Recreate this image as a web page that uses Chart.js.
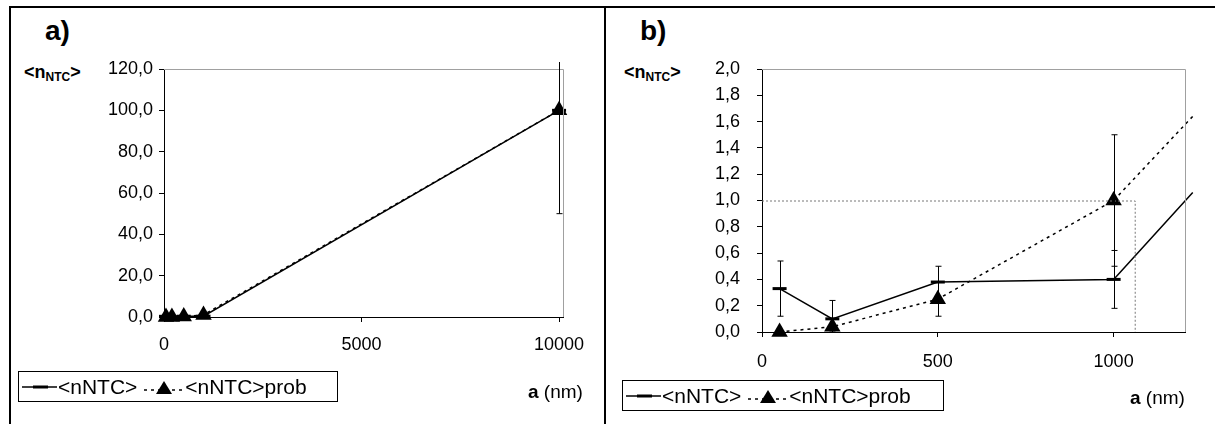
<!DOCTYPE html>
<html>
<head>
<meta charset="utf-8">
<script src="https://cdn.jsdelivr.net/npm/chart.js@4.4.0/dist/chart.umd.min.js"></script>
<style>
  body { margin: 0; width: 1215px; height: 424px; background: #fff; position: relative; overflow: hidden;
         font-family: Arial, "Liberation Sans", sans-serif; color: #000; }
  .frame { position: absolute; left: 9px; top: 6px; width: 1230px; height: 440px; border: 2px solid #000; box-sizing: border-box; }
  .divider { position: absolute; left: 604px; top: 6px; width: 2px; height: 430px; background: #000; }
  .box { position: absolute; }
  .tag { position: absolute; font-weight: bold; font-size: 28px; }
  .ylab { position: absolute; font-weight: bold; font-size: 18px; }
  .ylab sub { font-size: 12px; vertical-align: -3px; }
  .xlab { position: absolute; font-size: 19px; }
  .legend { position: absolute; border: 1px solid #000; font-size: 21px; height: 31px; line-height: 29px;
            box-sizing: border-box; white-space: nowrap; padding-left: 2px; }
  .legend svg { vertical-align: middle; margin-top: -3px; }
</style>
</head>
<body>
<div class="frame"></div>
<div class="divider"></div>

<div class="tag" style="left:45px;top:15px;">a)</div>
<div class="tag" style="left:640px;top:15px;">b)</div>
<div class="ylab" style="left:24px;top:62px;">&lt;n<sub>NTC</sub>&gt;</div>
<div class="ylab" style="left:624px;top:62px;">&lt;n<sub>NTC</sub>&gt;</div>

<div class="box" style="left:12px;top:10px;width:590px;height:400px;"><canvas id="chartA"></canvas></div>
<div class="box" style="left:610px;top:10px;width:600px;height:400px;"><canvas id="chartB"></canvas></div>

<div class="xlab" style="left:528px;top:381px;"><b>a</b> (nm)</div>
<div class="xlab" style="left:1130px;top:387px;"><b>a</b> (nm)</div>

<div class="legend" style="left:18px;top:371px;width:320px;">
  <svg width="37" height="12"><line x1="1" y1="6" x2="36" y2="6" stroke="#000" stroke-width="1.5"/><line x1="12" y1="6" x2="27" y2="6" stroke="#000" stroke-width="3"/></svg>&lt;nNTC&gt;
  <svg width="42" height="18"><line x1="1" y1="12" x2="41" y2="12" stroke="#000" stroke-width="1.5" stroke-dasharray="3,4"/><polygon points="21,3 29,16 13,16" fill="#000"/></svg>&lt;nNTC&gt;prob
</div>
<div class="legend" style="left:622px;top:380px;width:322px;">
  <svg width="37" height="12"><line x1="1" y1="6" x2="36" y2="6" stroke="#000" stroke-width="1.5"/><line x1="12" y1="6" x2="27" y2="6" stroke="#000" stroke-width="3"/></svg>&lt;nNTC&gt;
  <svg width="42" height="18"><line x1="1" y1="12" x2="41" y2="12" stroke="#000" stroke-width="1.5" stroke-dasharray="3,4"/><polygon points="21,3 29,16 13,16" fill="#000"/></svg>&lt;nNTC&gt;prob
</div>

<script>
// particle spacing a (nm)
const aValues = [50, 200, 500, 1000, 10000];
// <nNTC> and its error range
const nNTC = [0.33, 0.10, 0.38, 0.40, 100];
const nNTCLow = [0.12, 0.00, 0.26, 0.18, 50];
const nNTCHigh = [0.54, 0.24, 0.50, 0.62, 150];
// <nNTC>prob and its error range
const nProb = [0.00, 0.04, 0.25, 1.00, 100];
const nProbLow = [0.00, 0.04, 0.12, 0.50, 100];
const nProbHigh = [0.00, 0.04, 0.38, 1.50, 100];

// panel b: zoom, lines leave the frame on the right at these values
const bValues = [50, 200, 500, 1000, 1225];
const bNTC = [0.33, 0.10, 0.38, 0.40, 1.06];
const bProb = [0.00, 0.04, 0.25, 1.00, 1.64];
const bBox = { x: 1060, y: 1.0 };   // dashed zoom frame

const aTicksX = [0, 5000, 10000];
const bTicksX = [0, 500, 1000];

const FONT = { family: 'Arial, "Liberation Sans", sans-serif', size: 18 };

function pts(xs, ys) {
    return xs.map((x, i) => ({ x: x, y: ys[i] }));
}

// error bars, frame lines, zoom box
const extras = {
    id: 'extras',
    afterDatasetsDraw(chart, args, opts) {
        const ctx = chart.ctx;
        const xs = chart.scales.x, ys = chart.scales.y;
        const area = chart.chartArea;
        ctx.save();
        // plot frame top/right (gray)
        ctx.strokeStyle = '#a0a0a0';
        ctx.lineWidth = 1;
        ctx.beginPath();
        ctx.moveTo(area.left, area.top + 0.5);
        ctx.lineTo(area.right + 0.5, area.top + 0.5);
        ctx.lineTo(area.right + 0.5, area.bottom);
        ctx.stroke();

        if (opts.box) {
            ctx.strokeStyle = '#777';
            ctx.setLineDash([2, 2]);
            const bx = xs.getPixelForValue(opts.box.x), by = ys.getPixelForValue(opts.box.y);
            ctx.beginPath();
            ctx.moveTo(area.left, by + 0.5);
            ctx.lineTo(bx + 0.5, by + 0.5);
            ctx.lineTo(bx + 0.5, area.bottom);
            ctx.stroke();
            ctx.setLineDash([]);
        }

        ctx.strokeStyle = '#000';
        ctx.lineWidth = 1;
        opts.errors.forEach(e => {
            e.x.forEach((xv, i) => {
                if (e.high[i] === e.low[i]) return;
                if (xv > xs.max) return;
                const px = Math.round(xs.getPixelForValue(xv)) + 0.5;
                let top = ys.getPixelForValue(e.high[i]);
                let bot = ys.getPixelForValue(e.low[i]);
                const topCut = top < area.top - 7;
                if (topCut) top = area.top - 7;
                ctx.beginPath();
                ctx.moveTo(px, top);
                ctx.lineTo(px, bot);
                if (!topCut) { ctx.moveTo(px - 3, top); ctx.lineTo(px + 3, top); }
                ctx.moveTo(px - 3, bot); ctx.lineTo(px + 3, bot);
                ctx.stroke();
            });
        });
        ctx.restore();
    }
};

function makeChart(id, cfg) {
    const W = cfg.W, H = cfg.H;
    return new Chart(document.getElementById(id), {
        type: 'scatter',
        data: {
            datasets: [
                {
                    label: '<nNTC>',
                    data: pts(cfg.xs, cfg.n),
                    showLine: true,
                    borderColor: '#000',
                    borderWidth: 1.5,
                    pointStyle: 'line',
                    pointRadius: cfg.xs.map(x => x > cfg.xMax ? 0 : 7),
                    pointBorderWidth: 3,
                    pointBorderColor: '#000',
                    clip: false
                },
                {
                    label: '<nNTC>prob',
                    data: pts(cfg.xs, cfg.p),
                    showLine: true,
                    borderColor: '#000',
                    borderWidth: 1.5,
                    borderDash: [3, 4],
                    pointStyle: 'triangle',
                    pointRadius: cfg.xs.map(x => x > cfg.xMax ? 0 : 9.5),
                    pointBackgroundColor: '#000',
                    pointBorderColor: '#000',
                    pointBorderWidth: 0,
                    clip: false
                }
            ]
        },
        options: {
            responsive: true,
            maintainAspectRatio: false,
            animation: false,
            events: [],
            layout: { padding: { left: 0, top: cfg.top, right: W - cfg.right, bottom: 0 } },
            plugins: {
                legend: { display: false },
                tooltip: { enabled: false },
                extras: { errors: cfg.errors, box: cfg.box }
            },
            scales: {
                x: {
                    type: 'linear',
                    min: 0,
                    max: cfg.xMax,
                    afterBuildTicks: s => { s.ticks = cfg.xTicks.map(v => ({ value: v })); },
                    afterFit: s => { s.height = H - cfg.bottom; },
                    grid: { drawOnChartArea: false, tickLength: 5, color: '#000' },
                    border: { color: '#000', width: 1 },
                    ticks: { color: '#000', font: FONT, padding: cfg.xPad, maxRotation: 0,
                             callback: v => String(v) }
                },
                y: {
                    min: 0,
                    max: cfg.yMax,
                    ticks: {
                        stepSize: cfg.yStep,
                        color: '#000',
                        font: FONT,
                        padding: cfg.yPad,
                        callback: v => v.toFixed(1).replace('.', ',')
                    },
                    afterFit: s => { s.width = cfg.left; },
                    grid: { drawOnChartArea: false, tickLength: 5, color: '#000' },
                    border: { color: '#000', width: 1 }
                }
            }
        },
        plugins: [extras]
    });
}

makeChart('chartA', {
    W: 590, H: 400, left: 152, right: 551, top: 59, bottom: 307,
    xs: aValues, n: nNTC, p: nProb, xMax: 10100, xTicks: aTicksX,
    yMax: 120, yStep: 20, xPad: 12, yPad: 6,
    errors: [
        { x: aValues, low: nNTCLow, high: nNTCHigh },
        { x: aValues, low: nProbLow, high: nProbHigh }
    ]
});

makeChart('chartB', {
    W: 600, H: 400, left: 152, right: 575, top: 59, bottom: 322,
    xs: bValues, n: bNTC, p: bProb, xMax: 1203, xTicks: bTicksX,
    yMax: 2, yStep: 0.2, xPad: 14, yPad: 17, box: bBox,
    errors: [
        { x: aValues, low: nNTCLow, high: nNTCHigh },
        { x: aValues, low: nProbLow, high: nProbHigh }
    ]
});
</script>
</body>
</html>
